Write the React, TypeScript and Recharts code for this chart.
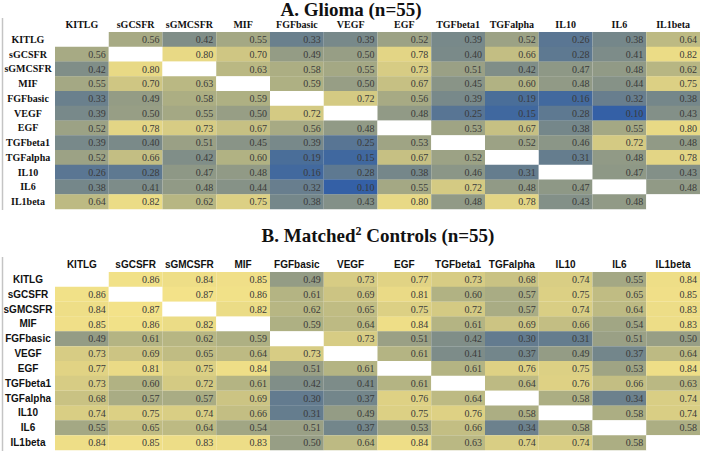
import React from 'react';
import { BarChart, Bar, XAxis, YAxis, Cell, LabelList } from 'recharts';

const names = ['KITLG', 'sGCSFR', 'sGMCSFR', 'MIF', 'FGFbasic', 'VEGF', 'EGF', 'TGFbeta1', 'TGFalpha', 'IL10', 'IL6', 'IL1beta'];

const gliomaMatrix: (number | null)[][] = [
  [null, 0.56, 0.42, 0.55, 0.33, 0.39, 0.52, 0.39, 0.52, 0.26, 0.38, 0.64],
  [0.56, null, 0.80, 0.70, 0.49, 0.50, 0.78, 0.40, 0.66, 0.28, 0.41, 0.82],
  [0.42, 0.80, null, 0.63, 0.58, 0.55, 0.73, 0.51, 0.42, 0.47, 0.48, 0.62],
  [0.55, 0.70, 0.63, null, 0.59, 0.50, 0.67, 0.45, 0.60, 0.48, 0.44, 0.75],
  [0.33, 0.49, 0.58, 0.59, null, 0.72, 0.56, 0.39, 0.19, 0.16, 0.32, 0.38],
  [0.39, 0.50, 0.55, 0.50, 0.72, null, 0.48, 0.25, 0.15, 0.28, 0.10, 0.43],
  [0.52, 0.78, 0.73, 0.67, 0.56, 0.48, null, 0.53, 0.67, 0.38, 0.55, 0.80],
  [0.39, 0.40, 0.51, 0.45, 0.39, 0.25, 0.53, null, 0.52, 0.46, 0.72, 0.48],
  [0.52, 0.66, 0.42, 0.60, 0.19, 0.15, 0.67, 0.52, null, 0.31, 0.48, 0.78],
  [0.26, 0.28, 0.47, 0.48, 0.16, 0.28, 0.38, 0.46, 0.31, null, 0.47, 0.43],
  [0.38, 0.41, 0.48, 0.44, 0.32, 0.10, 0.55, 0.72, 0.48, 0.47, null, 0.48],
  [0.64, 0.82, 0.62, 0.75, 0.38, 0.43, 0.80, 0.48, 0.78, 0.43, 0.48, null],
];

const controlMatrix: (number | null)[][] = [
  [null, 0.86, 0.84, 0.85, 0.49, 0.73, 0.77, 0.73, 0.68, 0.74, 0.55, 0.84],
  [0.86, null, 0.87, 0.86, 0.61, 0.69, 0.81, 0.60, 0.57, 0.75, 0.65, 0.85],
  [0.84, 0.87, null, 0.82, 0.62, 0.65, 0.75, 0.72, 0.57, 0.74, 0.64, 0.83],
  [0.85, 0.86, 0.82, null, 0.59, 0.64, 0.84, 0.61, 0.69, 0.66, 0.54, 0.83],
  [0.49, 0.61, 0.62, 0.59, null, 0.73, 0.51, 0.42, 0.30, 0.31, 0.51, 0.50],
  [0.73, 0.69, 0.65, 0.64, 0.73, null, 0.61, 0.41, 0.37, 0.49, 0.37, 0.64],
  [0.77, 0.81, 0.75, 0.84, 0.51, 0.61, null, 0.61, 0.76, 0.75, 0.53, 0.84],
  [0.73, 0.60, 0.72, 0.61, 0.42, 0.41, 0.61, null, 0.64, 0.76, 0.66, 0.63],
  [0.68, 0.57, 0.57, 0.69, 0.30, 0.37, 0.76, 0.64, null, 0.58, 0.34, 0.74],
  [0.74, 0.75, 0.74, 0.66, 0.31, 0.49, 0.75, 0.76, 0.58, null, 0.58, 0.74],
  [0.55, 0.65, 0.64, 0.54, 0.51, 0.37, 0.53, 0.66, 0.34, 0.58, null, 0.58],
  [0.84, 0.85, 0.83, 0.83, 0.50, 0.64, 0.84, 0.63, 0.74, 0.74, 0.58, null],
];

const colorStops: [number, string][] = [
  [0.10, '#3460a6'],
  [0.20, '#4c6f98'],
  [0.30, '#637b8f'],
  [0.40, '#7a8a89'],
  [0.50, '#979e85'],
  [0.60, '#b1b283'],
  [0.70, '#cfc683'],
  [0.80, '#e8d985'],
  [0.87, '#f3e289'],
];

const SERIF = '"Liberation Serif", "Times New Roman", serif';
const SANS = '"Liberation Sans", Arial, sans-serif';

function hexToRgb(h: string) {
  return [parseInt(h.slice(1, 3), 16), parseInt(h.slice(3, 5), 16), parseInt(h.slice(5, 7), 16)];
}

function colorFor(v: number | null): string {
  if (v == null) return '#ffffff';
  if (v <= colorStops[0][0]) return colorStops[0][1];
  for (let k = 1; k < colorStops.length; k++) {
    const [v1, c1] = colorStops[k];
    const [v0, c0] = colorStops[k - 1];
    if (v <= v1) {
      const t = (v - v0) / (v1 - v0);
      const a = hexToRgb(c0);
      const b = hexToRgb(c1);
      const m = a.map((x, i) => Math.round(x + (b[i] - x) * t));
      return `rgb(${m[0]},${m[1]},${m[2]})`;
    }
  }
  return colorStops[colorStops.length - 1][1];
}

function buildRows(m: (number | null)[][]) {
  return names.map((n, i) => {
    const o: any = { name: n };
    names.forEach((_, j) => {
      o['c' + j] = 1;
      o['v' + j] = i === j ? null : m[i][j];
    });
    return o;
  });
}

const headerTicks = names.map((_, j) => j + 0.5);

function makeHeaderTick(font: string) {
  return (props: any) => {
    const { x, y, payload } = props;
    const idx = Math.floor(payload.value);
    return (
      <text x={x} y={y} textAnchor="middle" fontFamily={font} fontWeight="bold" fontSize={10} fill="#111">
        {names[idx]}
      </text>
    );
  };
}

function makeRowTick(font: string) {
  return (props: any) => {
    const { x, y, payload } = props;
    return (
      <text x={x} y={y} dy="0.35em" textAnchor="middle" fontFamily={font} fontWeight="bold" fontSize={10} fill="#111">
        {payload.value}
      </text>
    );
  };
}

const ValueLabel = (props: any) => {
  const vb = props.viewBox && props.viewBox.width != null ? props.viewBox : props;
  const { value } = props;
  if (value == null) return null;
  const x = vb.x + vb.width - 3;
  const y = vb.y + vb.height / 2;
  return (
    <text x={x} y={y} dy="0.35em" textAnchor="end" fontFamily={SERIF} fontSize={10} fill="#3a3a3a">
      {Number(value).toFixed(2)}
    </text>
  );
};

function Panel({ matrix, font, height, bottom }: { matrix: (number | null)[][]; font: string; height: number; bottom: number }) {
  const data = buildRows(matrix);
  return (
    <BarChart
      width={701}
      height={height}
      data={data}
      layout="vertical"
      margin={{ top: 0, right: 1, bottom, left: 0 }}
      barCategoryGap={0}
      barGap={0}
    >
      <XAxis
        type="number"
        orientation="top"
        domain={[0, 12]}
        ticks={headerTicks}
        interval={0}
        height={32}
        axisLine={false}
        tickLine={false}
        tickSize={0}
        tickMargin={4}
        tick={makeHeaderTick(font)}
      />
      <YAxis
        type="category"
        dataKey="name"
        width={55}
        interval={0}
        axisLine={false}
        tickLine={false}
        tickSize={0}
        tickMargin={27}
        tick={makeRowTick(font)}
      />
      {names.map((_, j) => (
        <Bar key={j} dataKey={'c' + j} stackId="s" isAnimationActive={false}>
          {data.map((row: any, i: number) => (
            <Cell key={i} fill={i === j ? '#ffffff' : colorFor(matrix[i][j])} />
          ))}
          <LabelList dataKey={'v' + j} content={ValueLabel} />
        </Bar>
      ))}
    </BarChart>
  );
}

export default function App() {
  return (
    <div style={{ position: 'absolute', left: 0, top: 0, width: 701, height: 451, background: '#ffffff', overflow: 'hidden' }}>
      <div style={{ position: 'absolute', left: 0, top: 0 }}>
        <Panel matrix={gliomaMatrix} font={SERIF} height={215} bottom={6} />
      </div>
      <div style={{ position: 'absolute', left: 0, top: 240 }}>
        <Panel matrix={controlMatrix} font={SANS} height={211} bottom={1} />
      </div>
      <svg width={701} height={451} style={{ position: 'absolute', left: 0, top: 0, pointerEvents: 'none' }}>
        <line x1={2.5} y1={18} x2={2.5} y2={210} stroke="#c4c4c4" strokeWidth={1.5} />
        <line x1={2.5} y1={257} x2={2.5} y2={451} stroke="#c4c4c4" strokeWidth={1.5} />
        <text x={351} y={15.5} textAnchor="middle" fontFamily={SERIF} fontWeight="bold" fontSize={19} fill="#111">
          A. Glioma (n=55)
        </text>
        <text x={378} y={242} textAnchor="middle" fontFamily={SERIF} fontWeight="bold" fontSize={19} fill="#111">
          B. Matched<tspan dy={-7} fontSize={12}>2</tspan>
          <tspan dy={7}> Controls (n=55)</tspan>
        </text>
      </svg>
    </div>
  );
}
